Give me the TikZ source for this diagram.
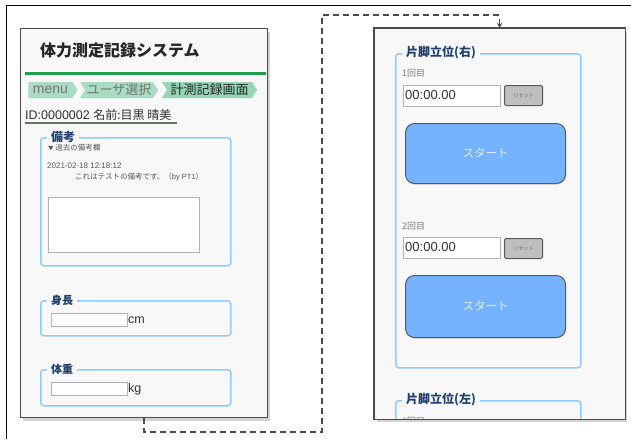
\documentclass[tikz,border=0pt]{standalone}
\usepackage{fontspec}
\setmainfont{Liberation Sans}
\newfontfamily\jp{Noto Sans CJK JP}
\usetikzlibrary{shapes.symbols,shadows,arrows.meta}

\definecolor{panelbg}{HTML}{F8F8F8}
\definecolor{fieldblue}{HTML}{93CBFF}
\definecolor{legendblue}{HTML}{1F3F6E}
\definecolor{crumbgreen}{HTML}{A8DDC4}
\definecolor{crumbdark}{HTML}{95D6B7}
\definecolor{startblue}{HTML}{76B3FF}
\definecolor{starttext}{HTML}{E3EEFC}
\definecolor{headgreen}{HTML}{1E9E48}
\definecolor{lineolive}{HTML}{5A7A5A}

\tikzset{
  panel/.style={draw=black!70, line width=1.2pt, fill=panelbg, anchor=north west, inner sep=0pt,
    drop shadow={opacity=0.35, shadow xshift=2pt, shadow yshift=-3pt}},
  fieldbox/.style={draw=fieldblue, line width=1.5pt, rounded corners=3pt, anchor=north west, inner sep=0pt},
  legendtxt/.style={fill=panelbg, text=legendblue, inner xsep=4pt, inner ysep=0pt, anchor=west,
    font=\jp\bfseries\fontsize{12}{14}\selectfont},
  inputbox/.style={draw=black!30, line width=0.8pt, fill=white, anchor=north west, inner sep=0pt},
  resetbtn/.style={draw=black!65, line width=1pt, fill=black!25, rounded corners=1.5pt, anchor=north west,
    inner sep=0pt, minimum width=38, minimum height=20, text=black!60, font=\jp\fontsize{5}{6}\selectfont},
  startbtn/.style={draw=black!65, line width=1pt, fill=startblue, rounded corners=9pt, anchor=north west,
    inner sep=0pt, minimum width=160, text=starttext, font=\jp\fontsize{11.5}{13}\selectfont,
    drop shadow={opacity=0.25, shadow xshift=0.5pt, shadow yshift=-1pt}},
  crumb/.style={signal, signal to=east, signal pointer angle=116, fill=crumbgreen, inner sep=0pt,
    minimum height=16, text=black!55, font=\fontsize{14}{15}\selectfont},
  smalltxt/.style={anchor=west, inner sep=0pt, text=black!65, font=\fontsize{8}{9}\selectfont},
  trialtxt/.style={anchor=west, inner sep=0pt, text=black!50, font=\jp\fontsize{9}{10}\selectfont},
  timetxt/.style={anchor=west, inner sep=0pt, text=black!80, font=\fontsize{13}{14}\selectfont},
  flow/.style={dash pattern=on 6pt off 4pt, line width=1.5pt, draw=black!70, -{Stealth[length=5pt,width=5pt]}},
}

\begin{document}
\begin{tikzpicture}[x=1pt,y=-1pt]
\useasboundingbox (0,0) rectangle (631,439);

% outer frame
\draw[line width=1pt] (6,439) -- (6,5) -- (631,5);

% ---- user screen (left) ----
\node[panel, minimum width=247, minimum height=389] (userpanel) at (20,28) {};
\node[anchor=west, inner sep=0pt, text=black!85, font=\jp\bfseries\fontsize{16}{18}\selectfont] (title) at (40,50) {体力測定記録システム};
\draw[headgreen, line width=3pt] (25,73) -- (266.4,73);

% breadcrumb
\node[crumb, minimum width=49] (crumbmenu) at (50.5,90) {menu};
\node[crumb, signal from=west, minimum width=78, font=\jp\fontsize{13}{15}\selectfont] (crumbuser) at (119,90) {ユーザ選択};
\node[crumb, signal from=west, minimum width=95, fill=crumbdark, text=black!85, font=\jp\fontsize{13}{15}\selectfont] (crumbrecord) at (209.5,90) {計測記録画面};

\node[anchor=base west, inner sep=0pt, text=black!80, font=\fontsize{12.5}{14}\selectfont] (userid) at (25,119) {ID:0000002 {\jp\fontsize{12}{14}\selectfont 名前:目黒 晴美}};
\draw[lineolive, line width=1.5pt] (25,123) -- (177,123);

% remarks
\node[fieldbox, minimum width=190, minimum height=128] (remarks) at (40,137) {};
\node[legendtxt] (remarkslbl) at (47,137) {備考};
\node[smalltxt, font=\jp\fontsize{7.5}{9}\selectfont] (pastnote) at (48,148) {{\fontsize{5.5}{7}\selectfont ▼} 過去の備考欄};
\node[smalltxt] (notedate) at (47,166) {2021-02-18 12:18:12};
\node[smalltxt, font=\fontsize{7.5}{9}\selectfont] (notebody) at (75,177) {{\jp これはテストの備考です。（}by PT1{\jp ）}};
\node[inputbox, minimum width=151, minimum height=55] (notearea) at (48,197) {};

% height
\node[fieldbox, minimum width=190, minimum height=35] (height) at (40,300) {};
\node[legendtxt, font=\jp\bfseries\fontsize{11}{13}\selectfont] (heightlbl) at (47,300) {身長};
\node[inputbox, minimum width=76, minimum height=13] (heightin) at (51,313) {};
\node[timetxt, font=\fontsize{12.5}{14}\selectfont] (heightunit) at (heightin.east) {cm};

% weight
\node[fieldbox, minimum width=190, minimum height=36] (weight) at (40,369) {};
\node[legendtxt, font=\jp\bfseries\fontsize{11}{13}\selectfont] (weightlbl) at (47,369) {体重};
\node[inputbox, minimum width=76, minimum height=13] (weightin) at (51,382) {};
\node[timetxt, font=\fontsize{12.5}{14}\selectfont] (weightunit) at (weightin.east) {kg};

% ---- measurement screen (right) ----
\node[panel, draw=none, minimum width=250, minimum height=390] (measurepanel) at (374,28) {};

\node[fieldbox, minimum width=185, minimum height=314] (rightleg) at (395,53) {};
\node[legendtxt] (rightleglbl) at (402,53) {片脚立位(右)};

\node[trialtxt] (trialone) at (402,73) {1回目};
\node[inputbox, minimum width=97, minimum height=21] (timeone) at (403,85) {};
\node[timetxt] (timeonetxt) at (405,95.5) {00:00.00};
\node[resetbtn] (resetone) at (504,85) {リセット};
\node[startbtn, minimum height=60] (startone) at (405,123) {スタート};

\node[trialtxt] (trialtwo) at (402,226) {2回目};
\node[inputbox, minimum width=97, minimum height=21] (timetwo) at (403,237) {};
\node[timetxt] (timetwotxt) at (405,247.5) {00:00.00};
\node[resetbtn] (resettwo) at (504,238) {リセット};
\node[startbtn, minimum height=62] (starttwo) at (405,275) {スタート};

\begin{scope}
  \clip (measurepanel.north west) rectangle (measurepanel.south east);
  \node[fieldbox, minimum width=185, minimum height=100] (leftleg) at (395,400) {};
  \node[legendtxt] (leftleglbl) at (402,400) {片脚立位(左)};
  \node[trialtxt] (leftone) at (402,421) {1回目};
\end{scope}
\draw[black!70, line width=1.1pt] (measurepanel.north west) rectangle (measurepanel.south east);

% screen transition
\coordinate (turnlow) at (322,432);
\coordinate (turnhigh) at (322,15);
\draw[flow] (userpanel.south) |- (turnlow) -- (turnhigh) -| (measurepanel.north);

\end{tikzpicture}
\end{document}
